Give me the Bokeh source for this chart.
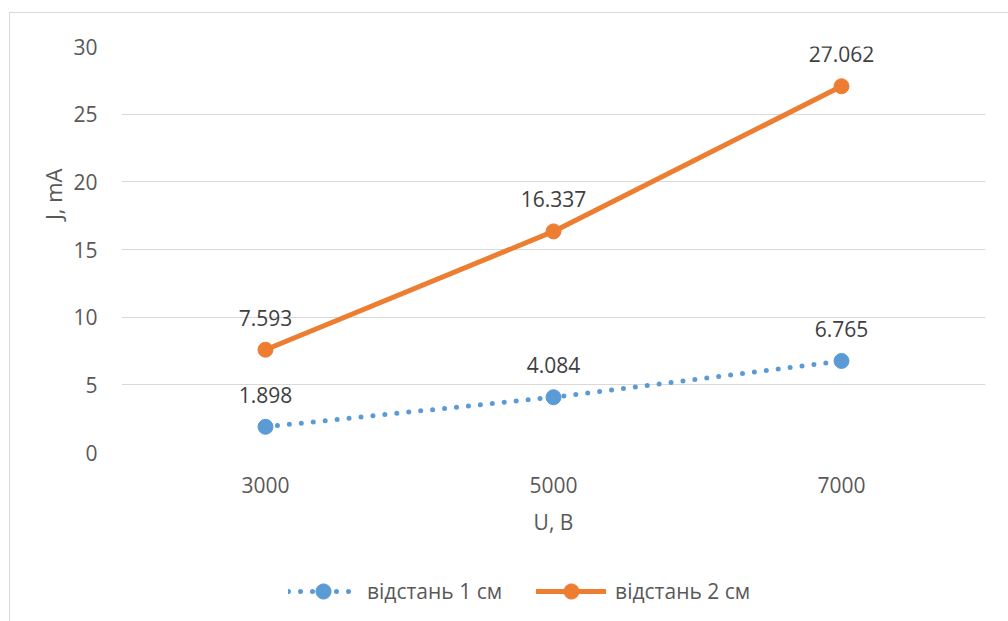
from bokeh.plotting import figure
from bokeh.layouts import column
from bokeh.models import (FactorRange, Range1d, SingleIntervalTicker, Legend, LegendItem,
                          Title, ColumnDataSource)
from bokeh.core.properties import value
from bokeh.embed import file_html
from bokeh.resources import INLINE

voltages = ["3000", "5000", "7000"]
series1 = [1.898, 4.084, 6.765]
series2 = [7.593, 16.337, 27.062]
series1_name = "відстань 1 см"
series2_name = "відстань 2 см"
x_title = "U, B"
y_title = "J, mA"

BLUE = "#5B9BD5"
ORANGE = "#ED7D31"
GRID = "#D9D9D9"
TXT = "#595959"
LBL = "#404040"
FONT = "Open Sans"
FS = "21px"

W = 998
H_MAIN, H_LEG = 547, 61

p = figure(width=W, height=H_MAIN, x_range=FactorRange(factors=voltages, range_padding=0),
           y_range=Range1d(0, 30), output_backend="svg", toolbar_location=None,
           min_border_left=111, min_border_top=33, min_border_right=23, min_border_bottom=108)
p.outline_line_color = None
p.background_fill_color = "white"
p.border_fill_color = "white"

p.xgrid.grid_line_color = None
p.ygrid.grid_line_color = GRID
p.ygrid.grid_line_width = 1
p.yaxis.ticker = SingleIntervalTicker(interval=5)

for ax in (p.xaxis[0], p.yaxis[0]):
    ax.axis_line_color = None
    ax.major_tick_line_color = None
    ax.minor_tick_line_color = None
    ax.major_label_text_font = FONT
    ax.major_label_text_font_size = FS
    ax.major_label_text_color = TXT
    ax.axis_label_text_font = FONT
    ax.axis_label_text_font_size = FS
    ax.axis_label_text_color = TXT
    ax.axis_label_text_font_style = "normal"
p.yaxis.major_label_standoff = 18
p.xaxis.major_label_standoff = 18
p.xaxis.axis_label = x_title
p.xaxis.axis_label_standoff = 12

src1 = ColumnDataSource(dict(x=voltages, y=series1, t=[f"{v:.3f}" for v in series1]))
src2 = ColumnDataSource(dict(x=voltages, y=series2, t=[f"{v:.3f}" for v in series2]))

p.line("x", "y", source=src1, line_color=BLUE, line_width=5, line_dash="0 12", line_cap="round")
p.scatter("x", "y", source=src1, size=15, fill_color=BLUE, line_color=BLUE)
p.line("x", "y", source=src2, line_color=ORANGE, line_width=5, line_cap="round")
p.scatter("x", "y", source=src2, size=15, fill_color=ORANGE, line_color=ORANGE)

for s in (src1, src2):
    p.text("x", "y", text="t", source=s, text_font=value(FONT), text_font_size=FS,
           text_color=LBL, text_align="center", text_baseline="middle", y_offset=-32)

ytitle = Title(text=y_title, align="right", offset=122, text_font=FONT, text_font_size="22px",
               text_font_style="normal", text_color=TXT, standoff=5)
p.add_layout(ytitle, "left")

# legend strip below the chart (its data lie outside its visible range)
q = figure(width=W, height=H_LEG, x_range=FactorRange(factors=voltages, range_padding=0),
           y_range=Range1d(1000, 1001),
           output_backend="svg", toolbar_location=None, x_axis_type=None, y_axis_type=None,
           min_border_left=0, min_border_right=0, min_border_top=0, min_border_bottom=0)
q.outline_line_color = None
q.grid.visible = False
q.background_fill_color = "white"
q.border_fill_color = "white"
ql1 = q.line("x", "y", source=src1, line_color=BLUE, line_width=5,
             line_dash="0 12", line_cap="round")
qm1 = q.scatter("x", "y", source=src1, size=15, fill_color=BLUE, line_color=BLUE)
ql2 = q.line("x", "y", source=src2, line_color=ORANGE, line_width=5, line_cap="round")
qm2 = q.scatter("x", "y", source=src2, size=15, fill_color=ORANGE, line_color=ORANGE)

legend = Legend(items=[LegendItem(label=series1_name, renderers=[ql1, qm1]),
                       LegendItem(label=series2_name, renderers=[ql2, qm2])],
                orientation="horizontal", location=(167, 11), padding=0, margin=0,
                spacing=34, glyph_width=70, glyph_height=38, label_standoff=9,
                label_text_font=FONT, label_text_font_size=FS, label_text_color=TXT,
                border_line_color=None, background_fill_alpha=0)
q.add_layout(legend, "center")

layout = column(p, q, spacing=0,
                styles={"border-left": "1px solid #D9D9D9", "border-top": "1px solid #D9D9D9",
                        "margin-top": "12px", "margin-left": "9px"})

open("out.html", "w").write(file_html(layout, INLINE))
